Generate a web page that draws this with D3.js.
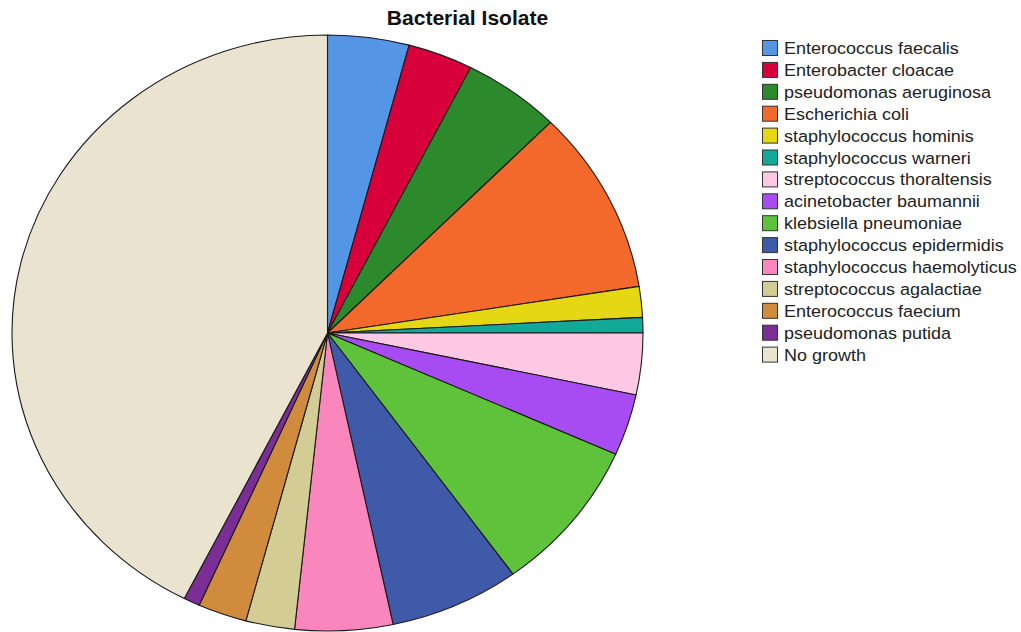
<!DOCTYPE html>
<html>
<head>
<meta charset="utf-8">
<script src="https://cdn.jsdelivr.net/npm/d3@7"></script>
<style>
  body { margin: 0; background: #fff; }
  svg { display: block; }
</style>
</head>
<body>
<svg id="chart" width="1021" height="632"></svg>
<script>
const title = "Bacterial Isolate";
const categories = [
  "Enterococcus faecalis", "Enterobacter cloacae", "pseudomonas aeruginosa",
  "Escherichia coli", "staphylococcus hominis", "staphylococcus warneri",
  "streptococcus thoraltensis", "acinetobacter baumannii", "klebsiella pneumoniae",
  "staphylococcus epidermidis", "staphylococcus haemolyticus", "streptococcus agalactiae",
  "Enterococcus faecium", "pseudomonas putida", "No growth"
];
const counts = [5, 4, 6, 12, 2, 1, 4, 4, 10, 8, 6, 3, 3, 1, 51];
const colors = [
  "#5595e6", "#d7003a", "#2c8a2c", "#f2692b", "#e5d714", "#12a999",
  "#fcc8e4", "#a64cf2", "#5ec23a", "#3f5aa8", "#f986bd", "#d3cc95",
  "#d18b3d", "#7b2e95", "#e9e3cf"
];

const svg = d3.select("#chart");
const cx = 327.5, cy = 333, rx = 315.5, ry = 298;

svg.append("text")
  .attr("transform", "translate(467.5,25) scale(1.08,1)")
  .attr("text-anchor", "middle")
  .attr("font-family", "Arial, 'Liberation Sans', sans-serif")
  .attr("font-weight", "bold")
  .attr("font-size", 19.5)
  .attr("fill", "#111")
  .text(title);

const data = categories.map((c, i) => ({ name: c, value: counts[i], color: colors[i] }));
const pie = d3.pie().value(d => d.value).sort(null);
const arc = d3.arc().innerRadius(0).outerRadius(ry);

const g = svg.append("g")
  .attr("transform", `translate(${cx},${cy}) scale(${rx / ry},1)`);

g.selectAll("path")
  .data(pie(data))
  .join("path")
  .attr("d", arc)
  .attr("fill", d => d.data.color)
  .attr("stroke", "#1a1a1a")
  .attr("stroke-width", 1.1)
  .attr("vector-effect", "non-scaling-stroke")
  .attr("stroke-linejoin", "round");

const legend = svg.append("g").attr("transform", "translate(762,40)");
const row = legend.selectAll("g")
  .data(data)
  .join("g")
  .attr("transform", (d, i) => `translate(0,${i * 21.9})`);
row.append("rect")
  .attr("x", 0.5).attr("y", 0.5)
  .attr("width", 15).attr("height", 15)
  .attr("fill", d => d.color)
  .attr("stroke", "#333")
  .attr("stroke-width", 1);
row.append("text")
  .attr("transform", "translate(22,14) scale(1.09,1)")
  .attr("font-family", "Arial, 'Liberation Sans', sans-serif")
  .attr("font-size", 16.5)
  .attr("fill", "#222")
  .text(d => d.name);
</script>
</body>
</html>
